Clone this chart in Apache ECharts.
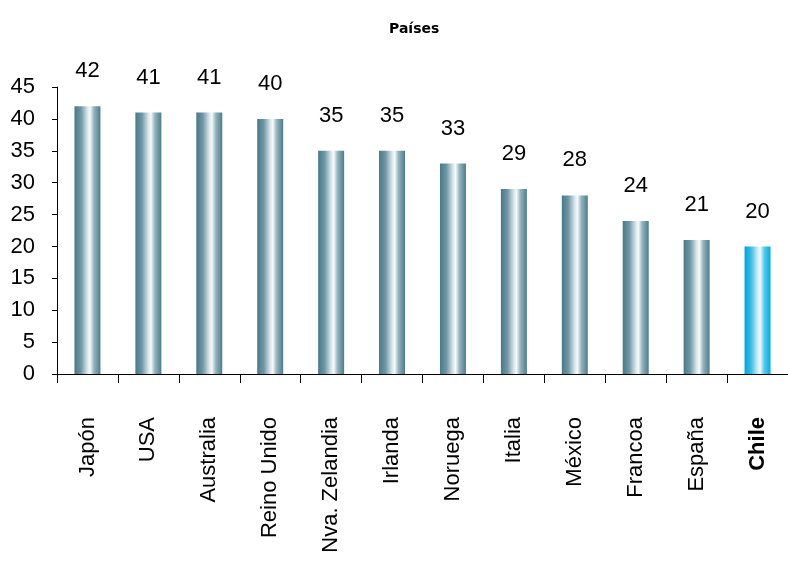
<!DOCTYPE html>
<html>
<head>
<meta charset="utf-8">
<script src="https://cdn.jsdelivr.net/npm/echarts@6/dist/echarts.min.js"></script>
<style>html,body{margin:0;padding:0;background:#fff}#c{width:788px;height:562px}</style>
</head>
<body>
<div id="c"></div>
<script>
const categories = ['Japón','USA','Australia','Reino Unido','Nva. Zelandia','Irlanda','Noruega','Italia','México','Francoa','España','Chile'];
const values = [42,41,41,40,35,35,33,29,28,24,21,20];
const yTicks = {min:0, max:45, interval:5};
const highlight = 'Chile';

const teal = {type:'linear',x:0,y:0,x2:1,y2:0,colorStops:[
  {offset:0,color:'#4a7888'},{offset:0.25,color:'#6f97a5'},{offset:0.5,color:'#d9e6ea'},
  {offset:0.6,color:'#f7fafb'},{offset:0.75,color:'#94b3be'},{offset:1,color:'#4e7c8b'}]};
const blue = {type:'linear',x:0,y:0,x2:1,y2:0,colorStops:[
  {offset:0,color:'#00a4d8'},{offset:0.25,color:'#3dbbe3'},{offset:0.5,color:'#c8edf8'},
  {offset:0.6,color:'#f4fcff'},{offset:0.75,color:'#5ccaec'},{offset:1,color:'#00aadd'}]};

const chart = echarts.init(document.getElementById('c'), null, {renderer:'canvas'});
chart.setOption({
  animation:false,
  title:{text:'Países',left:384,top:17,
    textStyle:{fontFamily:'DejaVu Sans',fontWeight:'bold',fontSize:14,color:'#000'}},
  grid:{left:57,top:87,bottom:188,width:734},
  xAxis:{type:'category',data:categories,
    axisLine:{lineStyle:{color:'#000',width:1}},
    axisTick:{show:true,alignWithLabel:false,length:9,lineStyle:{color:'#000'}},
    axisLabel:{rotate:90,margin:43,interval:0,fontFamily:'Liberation Sans',fontSize:22,color:'#000',
      formatter:function(v){return v===highlight?'{b|'+v+'}':v;},
      rich:{b:{fontWeight:'bold',fontFamily:'Liberation Sans',fontSize:22,color:'#000'}}}},
  yAxis:{type:'value',min:yTicks.min,max:yTicks.max,interval:yTicks.interval,
    axisLine:{show:true,lineStyle:{color:'#000',width:1}},
    axisTick:{show:true,length:5,lineStyle:{color:'#000'}},
    splitLine:{show:false},
    axisLabel:{margin:22,fontFamily:'Liberation Sans',fontSize:22,color:'#000'}},
  series:[{type:'bar',barWidth:26,
    data:values.map((v,i)=>({value:v,itemStyle:{color:categories[i]===highlight?blue:teal}})),
    label:{show:true,position:'top',distance:24,fontFamily:'Liberation Sans',fontSize:22,color:'#000'}}]
});
</script>
</body>
</html>
